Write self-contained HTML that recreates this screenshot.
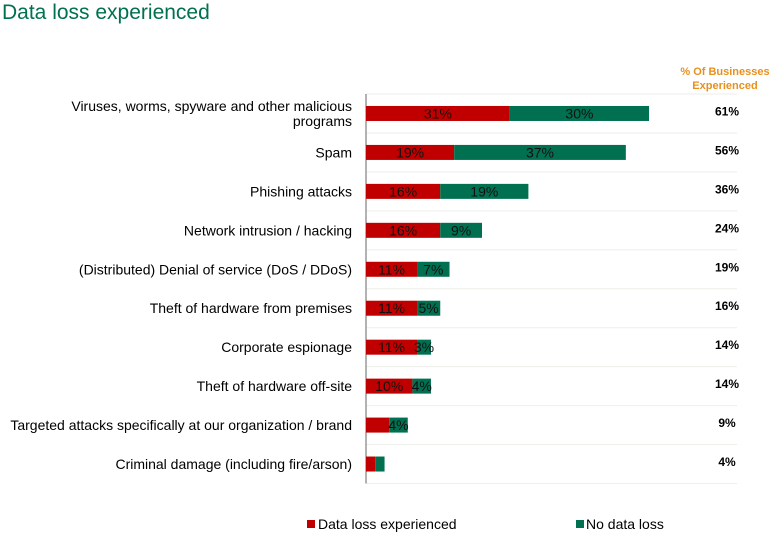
<!DOCTYPE html>
<html><head><meta charset="utf-8"><style>
body{margin:0;background:#fff;font-family:"Liberation Sans",sans-serif;}
#c{position:relative;width:780px;height:544px;overflow:hidden}
</style></head><body>
<div id="c">
<svg width="780" height="544">
<text x="2" y="19" font-size="21" fill="#007050">Data loss experienced</text>
<text x="725" y="75" font-size="11" font-weight="bold" fill="#e8901c" text-anchor="middle">% Of Businesses</text>
<text x="725" y="89" font-size="11" font-weight="bold" fill="#e8901c" text-anchor="middle">Experienced</text>
<g id="g"></g>
<rect x="307" y="520" width="8" height="8" fill="#c00000"/>
<text x="318" y="529" font-size="14" fill="#000">Data loss experienced</text>
<rect x="576" y="520" width="8" height="8" fill="#007050"/>
<text x="586" y="529" font-size="14" fill="#000">No data loss</text>
</svg></div>
<script>
const categories=[["Viruses, worms, spyware and other malicious","programs"],["Spam"],["Phishing attacks"],["Network intrusion / hacking"],["(Distributed) Denial of service (DoS / DDoS)"],["Theft of hardware from premises"],["Corporate espionage"],["Theft of hardware off-site"],["Targeted attacks specifically at our organization / brand"],["Criminal damage (including fire/arson)"]];
const lossValues=[31,19,16,16,11,11,11,10,5,2];
const noLossValues=[30,37,19,9,7,5,3,4,4,2];
const lossLabels=["31%","19%","16%","16%","11%","11%","11%","10%","",""];
const noLossLabels=["30%","37%","19%","9%","7%","5%","3%","4%","4%",""];
const totals=["61%","56%","36%","24%","19%","16%","14%","14%","9%","4%"];
const NS="http://www.w3.org/2000/svg",g=document.getElementById('g');
const x0=366,pxPer=4.64,top0=94,step=38.95,bh=15;
const xs=v=>x0+v*pxPer, yc=i=>top0+step*(i+0.5);
function mk(t,a){const e=document.createElementNS(NS,t);for(const k in a)e.setAttribute(k,a[k]);g.appendChild(e);return e;}
for(let i=0;i<=categories.length;i++){const l=mk('line',{x1:x0,x2:737,y1:top0+step*i,y2:top0+step*i,stroke:'#eeeeea','stroke-width':1});

}
const ax=mk('line',{x1:x0,x2:x0,y1:top0,y2:top0+step*categories.length,stroke:'#999','stroke-width':1.5});


categories.forEach((c,i)=>{
 const y=yc(i);
 const r1=mk('rect',{x:x0,y:y-bh/2,width:lossValues[i]*pxPer,height:bh,fill:'#c00000'});
 
 
 const r2=mk('rect',{x:xs(lossValues[i]),y:y-bh/2,width:noLossValues[i]*pxPer,height:bh,fill:'#007050'});
 
 
 if(lossLabels[i]){const t=mk('text',{x:x0+lossValues[i]*pxPer/2,y:y+5,'font-size':14,'text-anchor':'middle',fill:'#111'});t.textContent=lossLabels[i];
 
 }
 if(noLossLabels[i]){const t=mk('text',{x:xs(lossValues[i]+noLossValues[i]/2),y:y+5,'font-size':14,'text-anchor':'middle',fill:'#111'});t.textContent=noLossLabels[i];
 
 }
 const tt=mk('text',{x:727,y:y+2,'font-size':12,'font-weight':'bold','text-anchor':'middle',fill:'#000'});tt.textContent=totals[i];
 
 
 c.forEach((line,j)=>{const t=mk('text',{x:352,y:y+5+(j-(c.length-1)/2)*15,'font-size':14,'text-anchor':'end',fill:'#000'});t.textContent=line;
 
 });
});
</script>
</body></html>
